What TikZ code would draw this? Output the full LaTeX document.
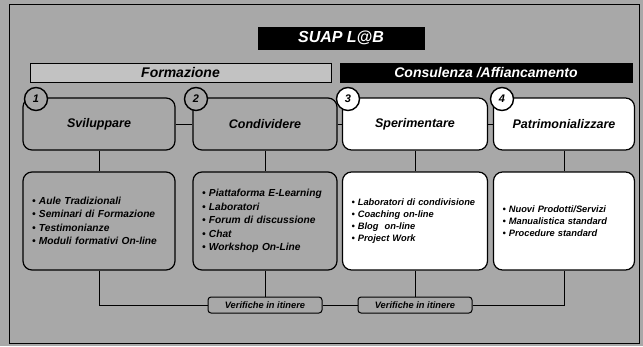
\documentclass[tikz,border=0pt]{standalone}
\usepackage{fontspec}
\setmainfont{Liberation Sans}
\usepackage{tikz}

\definecolor{bggray}{gray}{0.66}
\definecolor{bargray}{gray}{0.76}

\tikzset{
	boxgray/.style={draw, line width=1.2pt, rounded corners=9pt, fill=bggray},
	boxwhite/.style={draw, line width=1.2pt, rounded corners=9pt, fill=white},
	headtext/.style={font=\fontsize{12.5}{15}\selectfont\bfseries\itshape, minimum height=52pt, inner sep=0pt},
	listtext/.style={font=\fontsize{10.2}{13.5}\selectfont\bfseries\itshape, align=left, minimum height=98pt, inner xsep=9pt, inner ysep=0pt},
	smalllist/.style={font=\fontsize{9.3}{12}\selectfont\bfseries\itshape, align=left, minimum height=98pt, inner xsep=9pt, inner ysep=0pt},
	numcircle/.style={draw, circle, line width=1.4pt, minimum size=23pt, inner sep=0pt, font=\fontsize{11}{11}\selectfont\bfseries\itshape},
	checkbox/.style={draw, line width=1pt, rounded corners=3pt, fill=bggray, minimum width=114pt, minimum height=16pt, inner sep=0pt, font=\fontsize{9.3}{11}\selectfont\bfseries\itshape},
	barbox/.style={draw, line width=0.9pt, minimum height=19pt, inner sep=0pt, font=\fontsize{14}{16}\selectfont\bfseries\itshape}
}

\begin{document}
\begin{tikzpicture}[x=1pt, y=-1pt]
		\fill[bggray] (0,0) rectangle (643,346);
		\draw[line width=0.8pt] (9,4) rectangle (639,343);

		\node[barbox, fill=black, text=white, minimum width=166pt, minimum height=22pt, font=\fontsize{16}{18}\selectfont\bfseries\itshape] (suap) at (341,38) {SUAP L@B};
		\node[barbox, fill=bargray, minimum width=301pt] (formaz) at (180.5,72.5) {Formazione};
		\node[barbox, fill=black, text=white, minimum width=292pt] (consul) at (486,72.5) {Consulenza /Affiancamento};

		\node[boxgray, headtext, minimum width=152pt] (svil) at (99,124) {Sviluppare};
		\node[boxgray, headtext, minimum width=144pt] (cond) at (265,124) {Condividere};
		\node[boxwhite, headtext, minimum width=145pt] (sper) at (415,124) {Sperimentare};
		\node[boxwhite, headtext, minimum width=141pt] (patr) at (564,124) {Patrimonializzare};

		\node[boxgray, listtext, text width=134pt] (svillist) at (99,221) {%
			\textbullet\ Aule Tradizionali\\
			\textbullet\ Seminari di Formazione\\
			\textbullet\ Testimonianze\\
			\textbullet\ Moduli formativi On-line};
		\node[boxgray, listtext, text width=126pt] (condlist) at (265,221) {%
			\textbullet\ Piattaforma E-Learning\\
			\textbullet\ Laboratori\\
			\textbullet\ Forum di discussione\\
			\textbullet\ Chat\\
			\textbullet\ Workshop On-Line};
		\node[boxwhite, smalllist, text width=127pt] (sperlist) at (415,221) {%
			\textbullet\ Laboratori di condivisione\\
			\textbullet\ Coaching on-line\\
			\textbullet\ Blog\ \ on-line\\
			\textbullet\ Project Work};
		\node[boxwhite, smalllist, text width=123pt] (patrlist) at (564,221) {%
			\textbullet\ Nuovi Prodotti/Servizi\\
			\textbullet\ Manualistica standard\\
			\textbullet\ Procedure standard};

		\node[checkbox] (verif1) at (265,305) {Verifiche in itinere};
		\node[checkbox] (verif2) at (415,305) {Verifiche in itinere};

		\draw[line width=1pt] (svil) -- (cond);
		\draw[line width=1pt] (cond) -- (sper);
		\draw[line width=1pt] (sper) -- (patr);
		\draw[line width=1pt] (svil) -- (svillist);
		\draw[line width=1pt] (cond) -- (condlist);
		\draw[line width=1pt] (sper) -- (sperlist);
		\draw[line width=1pt] (patr) -- (patrlist);
		\draw[line width=1pt] (svillist) |- (verif1);
		\draw[line width=1pt] (condlist) -- (verif1);
		\draw[line width=1pt] (verif1) -- (verif2);
		\draw[line width=1pt] (sperlist) -- (verif2);
		\draw[line width=1pt] (verif2) -| (patrlist);

		\node[numcircle, fill=bggray] (num1) at (36,99) {1};
		\node[numcircle, fill=bggray] (num2) at (196,99) {2};
		\node[numcircle, fill=white] (num3) at (348,99) {3};
		\node[numcircle, fill=white] (num4) at (502,99) {4};
\end{tikzpicture}
\end{document}
